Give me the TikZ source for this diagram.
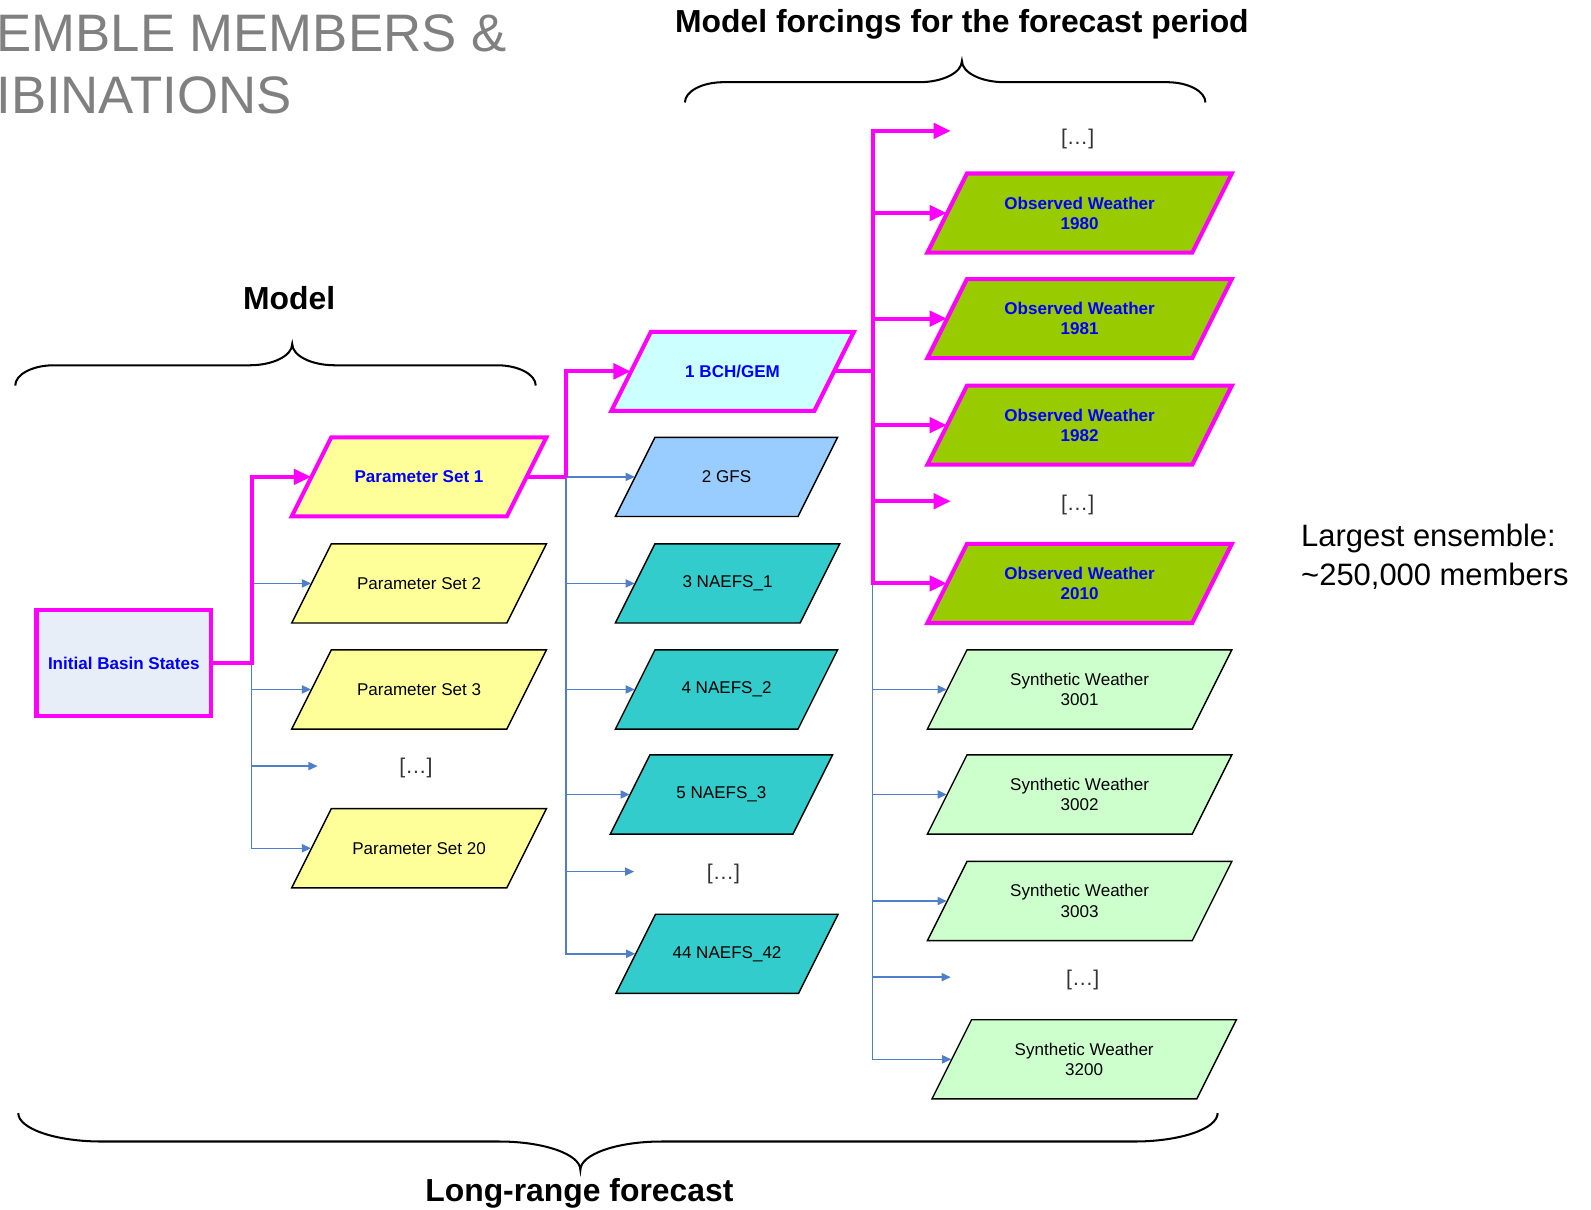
\documentclass[tikz,border=0pt]{standalone}
\usepackage{fontspec}
\setmainfont{Liberation Sans}
\usetikzlibrary{arrows.meta,calc}
\definecolor{mag}{HTML}{FF00FF}
\definecolor{conblue}{HTML}{4F7FC8}
\definecolor{psyellow}{HTML}{FFFF99}
\definecolor{bchcyan}{HTML}{CCFFFF}
\definecolor{gfsblue}{HTML}{99CCFF}
\definecolor{naefs}{HTML}{33CCCC}
\definecolor{obsgreen}{HTML}{99CC00}
\definecolor{syngreen}{HTML}{CCFFCC}
\definecolor{initfill}{HTML}{E8EEF8}
\definecolor{titlegray}{HTML}{808080}
\definecolor{txtblue}{HTML}{0000FF}

% parallelogram: name, shape style, cx, cy, width, text style, text
\newcommand\pgram[7]{%
  \path[#2] ({#3-#5/2-19.5},{#4+39}) -- ++(#5,0) -- ++(39,-78) -- ++(-#5,0) -- cycle;
  \node[#6, minimum width={#5*0.5pt}, minimum height=39pt] (#1) at (#3,#4) {#7};
}
% curly brace: x1, x2, xm, yend, yline, ytip, end curl, tip curl
\newcommand\curlybrace[8]{%
  \draw[bracestyle] (#1,#4) .. controls (#1,{#4+0.55*(#5-#4)}) and ({#1+0.45*#7},#5) .. ({#1+#7},#5)
    -- ({#3-#8},#5) .. controls ({#3-0.45*#8},#5) and (#3,{#6+0.55*(#5-#6)}) .. (#3,#6)
    .. controls (#3,{#6+0.55*(#5-#6)}) and ({#3+0.45*#8},#5) .. ({#3+#8},#5)
    -- ({#2-#7},#5) .. controls ({#2-0.45*#7},#5) and (#2,{#4+0.55*(#5-#4)}) .. (#2,#4);
}

\begin{document}
\begin{tikzpicture}[x=0.5pt,y=-0.5pt,
  pgplain/.style={draw=black, line width=0.7pt, line join=miter},
  pghi/.style={draw=mag, line width=2pt, line join=miter},
  ntext/.style={inner sep=0pt, align=center, font=\fontsize{8.4}{10}\selectfont, text=black},
  btext/.style={inner sep=0pt, align=center, font=\bfseries\fontsize{8.4}{10}\selectfont, text=txtblue},
  dotstext/.style={inner sep=0pt, font=\fontsize{10.5}{12}\selectfont, text=black!80},
  header/.style={inner sep=0pt, anchor=base, font=\bfseries\fontsize{15.7}{19}\selectfont},
  bracestyle/.style={draw=black, line width=1pt},
  magline/.style={draw=mag, line width=2pt, line join=miter, -{Triangle[length=8.5pt,width=7.5pt]}},
  blueline/.style={draw=conblue, line width=0.75pt, -{Triangle[length=4.5pt,width=4pt]}}]
\useasboundingbox (0,0) rectangle (1568,1192);

% title (clipped at page edge)
\node[inner sep=0pt, anchor=base west, text=titlegray, font=\fontsize{26}{31}\selectfont] (title1) at (-4,51) {EMBLE MEMBERS \&};
\node[inner sep=0pt, anchor=base west, text=titlegray, font=\fontsize{26}{31}\selectfont] (title2) at (-4,112) {IBINATIONS};

% headers
\node[header] (hforce) at (948,32) {Model forcings for the forecast period};
\node[header] (hmodel) at (285,305) {Model};
\node[header] (hlong) at (571,1184) {Long-range forecast};
\node[inner sep=0pt, anchor=base west, font=\fontsize{15.25}{18.5}\selectfont] (large1) at (1282,539) {Largest ensemble:};
\node[inner sep=0pt, anchor=base west, font=\fontsize{15.25}{18.5}\selectfont] (large2) at (1282,577) {\textasciitilde 250,000 members};

% braces
\curlybrace{675}{1188}{948}{101}{81}{60}{38}{42}
\curlybrace{15}{528}{288}{380}{360}{339}{38}{42}
\curlybrace{18}{1200}{572}{1097}{1125}{1153}{82}{80}

% initial states
\node[draw=mag, line width=2pt, fill=initfill, minimum width=86pt, minimum height=52.5pt,
      inner sep=0pt, font=\bfseries\fontsize{8.4}{10}\selectfont, text=txtblue] (init) at (122,653.5) {Initial Basin States};

% parameter sets
\pgram{ps1}{pghi,fill=psyellow}{413}{470}{212}{btext}{Parameter Set 1}
\pgram{ps2}{pgplain,fill=psyellow}{413}{575}{212}{ntext}{Parameter Set 2}
\pgram{ps3}{pgplain,fill=psyellow}{413}{679.5}{212}{ntext}{Parameter Set 3}
\node[dotstext] (psdots) at (410,757) {[…]};
\pgram{ps20}{pgplain,fill=psyellow}{413}{836}{212}{ntext}{Parameter Set 20}

% forecast models
\pgram{bch}{pghi,fill=bchcyan}{722}{366}{200}{btext}{1 BCH/GEM}
\pgram{gfs}{pgplain,fill=gfsblue}{716}{470}{180}{ntext}{2 GFS}
\pgram{nf1}{pgplain,fill=naefs}{717}{575}{182}{ntext}{3 NAEFS\_1}
\pgram{nf2}{pgplain,fill=naefs}{716}{679.5}{180}{ntext}{4 NAEFS\_2}
\pgram{nf3}{pgplain,fill=naefs}{711}{783}{180}{ntext}{5 NAEFS\_3}
\node[dotstext] (nfdots) at (713,861) {[…]};
\pgram{nf42}{pgplain,fill=naefs}{716.5}{940}{180}{ntext}{44 NAEFS\_42}

% weather forcings
\node[dotstext] (wdots1) at (1062,137) {[…]};
\pgram{ow80}{pghi,fill=obsgreen}{1064}{210}{261}{btext}{Observed Weather\\1980}
\pgram{ow81}{pghi,fill=obsgreen}{1064}{314}{261}{btext}{Observed Weather\\1981}
\pgram{ow82}{pghi,fill=obsgreen}{1064}{419}{261}{btext}{Observed Weather\\1982}
\node[dotstext] (wdots2) at (1062,498) {[…]};
\pgram{ow10}{pghi,fill=obsgreen}{1064}{575}{261}{btext}{Observed Weather\\2010}
\pgram{sw01}{pgplain,fill=syngreen}{1064}{679.5}{261}{ntext}{Synthetic Weather\\3001}
\pgram{sw02}{pgplain,fill=syngreen}{1064}{783}{261}{ntext}{Synthetic Weather\\3002}
\pgram{sw03}{pgplain,fill=syngreen}{1064}{888}{261}{ntext}{Synthetic Weather\\3003}
\node[dotstext] (wdots3) at (1067,966) {[…]};
\pgram{sw00}{pgplain,fill=syngreen}{1068.5}{1044}{261}{ntext}{Synthetic Weather\\3200}

% junctions and free ends
\coordinate (b1) at (248,653.5);
\coordinate (b2) at (558,470);
\coordinate (b3) at (860,366);
\coordinate (e1) at (313,755);
\coordinate (e2) at (625,859);
\coordinate (e3) at (937,129);
\coordinate (e4) at (937,494);
\coordinate (e5) at (937,963);

% blue connectors
\draw[blueline] (b1) |- (ps2.west);
\draw[blueline] (b1) |- (ps3.west);
\draw[blueline] (b1) |- (e1);
\draw[blueline] (b1) |- (ps20.west);
\draw[blueline] (b2) -- (gfs.west);
\draw[blueline] (b2) |- (nf1.west);
\draw[blueline] (b2) |- (nf2.west);
\draw[blueline] (b2) |- (nf3.west);
\draw[blueline] (b2) |- (e2);
\draw[blueline] (b2) |- (nf42.west);
\draw[blueline] (b3) |- (sw01.west);
\draw[blueline] (b3) |- (sw02.west);
\draw[blueline] (b3) |- (sw03.west);
\draw[blueline] (b3) |- (e5);
\draw[blueline] (b3) |- (sw00.west);

% magenta connectors
\draw[magline] (init.east) -- (b1) |- (ps1.west);
\draw[magline, -] (ps1.east) -- (b2);
\draw[magline] (b2) |- (bch.west);
\draw[magline, -] (bch.east) -- (b3);
\draw[magline] (b3) |- (e3);
\draw[magline] (b3) |- (ow80.west);
\draw[magline] (b3) |- (ow81.west);
\draw[magline] (b3) |- (ow82.west);
\draw[magline] (b3) |- (e4);
\draw[magline] (b3) |- (ow10.west);
\end{tikzpicture}
\end{document}
